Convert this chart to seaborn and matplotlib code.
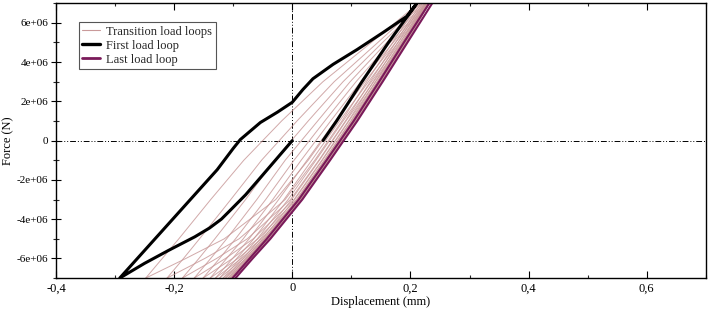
import numpy as np
import pandas as pd
import matplotlib
matplotlib.use("Agg")
import matplotlib.pyplot as plt
from matplotlib.ticker import MultipleLocator
from matplotlib.lines import Line2D
import seaborn as sns

# Force levels (1e6 N) at which the loop branches were read
force_levels = [-7, -6, -5, -3, -1, 1, 3, 5, 7]

# First load loop (black): origin -> min -> max -> back to zero
first_disp = [0.0, -0.05, -0.079, -0.105, -0.12, -0.14, -0.165, -0.21, -0.25, -0.292,
              -0.127, -0.100, -0.088, -0.054, -0.025, 0.0, 0.018, 0.035, 0.069, 0.110,
              0.154, 0.194, 0.211,
              0.163, 0.118, 0.075, 0.052]
first_force = [0.0, -1.75, -2.76, -3.55, -4.0, -4.45, -4.9, -5.6, -6.25, -7.0,
               -1.48, -0.4, 0.05, 0.92, 1.45, 1.95, 2.6, 3.15, 3.88, 4.64,
               5.51, 6.33, 7.0,
               5.0, 3.0, 1.0, 0.0]

# Transition loops: displacement (mm) at each force level
trans_up = [
    [-0.248, -0.220, -0.192, -0.138, -0.082, -0.018, 0.052, 0.134, 0.214],
    [-0.212, -0.184, -0.157, -0.104, -0.052, 0.008, 0.071, 0.145, 0.218],
    [-0.186, -0.158, -0.131, -0.079, -0.030, 0.027, 0.086, 0.153, 0.221],
    [-0.166, -0.138, -0.111, -0.060, -0.012, 0.043, 0.098, 0.160, 0.224],
    [-0.151, -0.123, -0.096, -0.045, 0.003, 0.055, 0.108, 0.166, 0.226],
    [-0.139, -0.111, -0.083, -0.033, 0.015, 0.065, 0.116, 0.171, 0.227],
    [-0.130, -0.101, -0.073, -0.023, 0.025, 0.073, 0.123, 0.175, 0.228],
    [-0.123, -0.094, -0.065, -0.014, 0.033, 0.080, 0.129, 0.179, 0.229],
    [-0.117, -0.088, -0.059, -0.007, 0.040, 0.086, 0.134, 0.182, 0.230],
    [-0.113, -0.083, -0.054, -0.001, 0.046, 0.091, 0.138, 0.185, 0.231],
    [-0.109, -0.079, -0.050, 0.004, 0.051, 0.096, 0.141, 0.187, 0.231],
    [-0.106, -0.076, -0.047, 0.008, 0.055, 0.100, 0.144, 0.188, 0.232],
    [-0.104, -0.074, -0.045, 0.010, 0.057, 0.102, 0.146, 0.189, 0.232],
]
trans_down = [
    [-0.248, -0.180, -0.115, -0.028, 0.027, 0.075, 0.118, 0.163, 0.209],
    [-0.212, -0.148, -0.090, -0.012, 0.038, 0.084, 0.126, 0.170, 0.214],
    [-0.186, -0.128, -0.076, -0.003, 0.045, 0.090, 0.132, 0.175, 0.218],
    [-0.166, -0.113, -0.066, 0.003, 0.050, 0.095, 0.137, 0.179, 0.221],
    [-0.151, -0.101, -0.058, 0.007, 0.054, 0.099, 0.141, 0.183, 0.224],
    [-0.139, -0.092, -0.052, 0.010, 0.057, 0.102, 0.144, 0.186, 0.226],
    [-0.130, -0.086, -0.048, 0.012, 0.059, 0.104, 0.146, 0.188, 0.227],
    [-0.123, -0.082, -0.045, 0.013, 0.060, 0.105, 0.148, 0.189, 0.228],
    [-0.117, -0.078, -0.043, 0.014, 0.061, 0.106, 0.149, 0.190, 0.229],
    [-0.113, -0.076, -0.041, 0.015, 0.062, 0.107, 0.150, 0.191, 0.230],
    [-0.109, -0.073, -0.040, 0.015, 0.062, 0.107, 0.150, 0.192, 0.231],
    [-0.106, -0.071, -0.039, 0.016, 0.063, 0.108, 0.151, 0.193, 0.231],
    [-0.104, -0.070, -0.039, 0.016, 0.063, 0.108, 0.151, 0.193, 0.232],
    [-0.100, -0.069, -0.038, 0.016, 0.063, 0.108, 0.152, 0.194, 0.232],
]

# Last load loop (purple)
last_up = [-0.101, -0.072, -0.043, 0.011, 0.058, 0.104, 0.147, 0.189, 0.232]
last_down = [-0.096, -0.067, -0.037, 0.017, 0.064, 0.110, 0.153, 0.195, 0.237]

x_ticks = [-0.4, -0.2, 0.0, 0.2, 0.4, 0.6]
x_tick_labels = ["-0,4", "-0,2", "0", "0,2", "0,4", "0,6"]
y_ticks = [-6e6, -4e6, -2e6, 0, 2e6, 4e6, 6e6]
y_tick_labels = ["-6e+06", "-4e+06", "-2e+06", "0", "2e+06", "4e+06", "6e+06"]

trans_color = "#c99a9a"
last_color = "#7a1a5a"

sns.set_theme(style="ticks")
plt.rcParams['font.family'] = ['Liberation Serif', 'DejaVu Serif']

fig = plt.figure(figsize=(7.08, 3.10), dpi=100)
ax = fig.add_axes([0.079, 0.103, 0.918, 0.887])

F = np.array(force_levels) * 1e6

# Transition loops
for branch in trans_up + trans_down:
    sns.lineplot(x=branch, y=F, sort=False, estimator=None, ax=ax,
                 color=trans_color, linewidth=0.7, alpha=0.85)

# Last loop
for branch in [last_up, last_down]:
    sns.lineplot(x=branch, y=F, sort=False, estimator=None, ax=ax,
                 color=last_color, linewidth=1.5)

# First loop
first = pd.DataFrame({'d': first_disp, 'f': np.array(first_force) * 1e6})
sns.lineplot(data=first, x='d', y='f', sort=False, estimator=None, ax=ax,
             color='black', linewidth=2.2)

# Zero lines (dash dot dot)
ax.axhline(0, color='black', linewidth=0.7, dashes=(6, 2, 1, 2, 1, 2), zorder=0.5)
ax.axvline(0, color='black', linewidth=0.7, dashes=(6, 2, 1, 2, 1, 2), zorder=0.5)

ax.set_xlim(-0.4, 0.7)
ax.set_ylim(-7e6, 7e6)
ax.set_xticks(x_ticks)
ax.set_xticklabels(x_tick_labels)
ax.set_yticks(y_ticks)
ax.set_yticklabels(y_tick_labels)
ax.xaxis.set_minor_locator(MultipleLocator(0.1))
ax.yaxis.set_minor_locator(MultipleLocator(1e6))
ax.tick_params(axis='x', which='major', direction='in', length=5, width=0.8,
               top=True, labelsize=9, pad=3, colors='black')
ax.tick_params(axis='x', which='minor', direction='in', length=2.5, width=0.8, top=True)
ax.tick_params(axis='y', which='major', direction='inout', length=7, width=0.8,
               labelsize=8, pad=2, colors='black')
ax.tick_params(axis='y', which='minor', direction='inout', length=4, width=0.8)

for s in ax.spines.values():
    s.set_color('black')
    s.set_linewidth(1.0)
    s.set_visible(True)

ax.set_xlabel("Displacement (mm)", fontsize=9, labelpad=1, color='black')
ax.set_ylabel("Force (N)", fontsize=9, labelpad=2, color='black')

handles = [Line2D([0], [0], color=trans_color, linewidth=0.8),
           Line2D([0], [0], color='black', linewidth=2.4),
           Line2D([0], [0], color=last_color, linewidth=2.0)]
labels = ["Transition load loops", "First load loop", "Last load loop"]
leg = ax.legend(handles, labels, loc='upper left', bbox_to_anchor=(0.035, 0.931),
                borderaxespad=0, fontsize=9, handlelength=1.4, handletextpad=0.5,
                labelspacing=0.15, borderpad=0.3, fancybox=False, framealpha=1)
leg.get_frame().set_edgecolor('#555555')
leg.get_frame().set_linewidth(0.8)

fig.savefig("out.png", dpi=100)
